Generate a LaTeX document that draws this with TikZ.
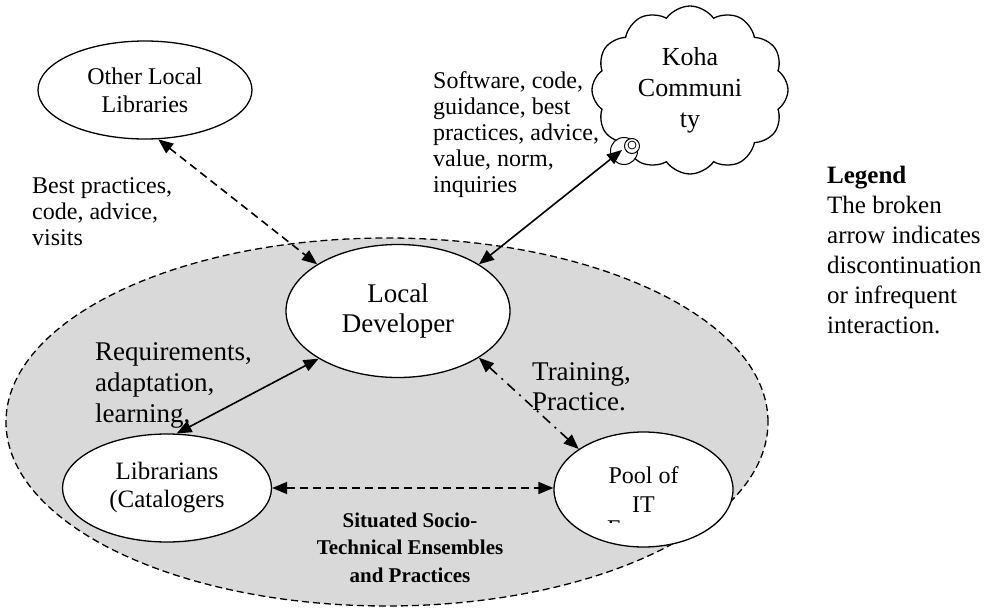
\documentclass[tikz,border=0pt]{standalone}
\usepackage{fontspec}
\setmainfont{Liberation Serif}
\usetikzlibrary{shapes.geometric,shapes.symbols,arrows.meta}
\begin{document}
\begin{tikzpicture}[x=1pt,y=-1pt,
  ell/.style={ellipse, draw, fill=white, line width=1.3pt, inner sep=0pt, align=center},
  conn/.style={line width=1.6pt, {Triangle[length=15pt,width=12pt]}-{Triangle[length=15pt,width=12pt]}},
  broken/.style={conn, dash pattern=on 8pt off 5pt},
  dotdash/.style={conn, dash pattern=on 10pt off 6pt on 2pt off 6pt},
  lbl/.style={anchor=base west, align=left, inner sep=0pt},
  bubble/.style={circle, draw, line width=1pt, inner sep=0pt, fill=white}
]
\useasboundingbox (0,0) rectangle (994,613);

% ensemble
\node[ellipse, draw, dash pattern=on 7pt off 4pt, line width=1.3pt, fill=black!15,
      minimum width=762, minimum height=368, inner sep=0pt] (ens) at (387,422) {};

% nodes
\node[ell, minimum width=214, minimum height=98, font=\fontsize{24}{28}\selectfont] (olib) at (145,90) {Other Local\\Libraries};
\node[ell, minimum width=224, minimum height=133, font=\fontsize{27}{30}\selectfont] (dev) at (398,311) {Local\\Developer};
\node[ell, minimum width=209, minimum height=108, font=\fontsize{25}{28}\selectfont] (lib) at (167,488) {Librarians\\(Catalogers};
\node[ell, minimum width=179, minimum height=115, font=\fontsize{24}{29}\selectfont] (pool) at (643.5,489.5) {Pool of\\IT};
\begin{scope}
  \clip (600,510) rectangle (632,522);
  \node[lbl, font=\fontsize{24}{29}\selectfont] (ecut) at (607,536) {E};
\end{scope}

\node[cloud, draw, line width=1.3pt, fill=white, cloud puffs=12, cloud puff arc=110,
      aspect=1.15, minimum width=196, minimum height=168, inner sep=0pt, align=center,
      font=\fontsize{26}{31}\selectfont] (koha) at (690,90) {Koha\\Communi\\ty};
\node[bubble, minimum size=27] (b1) at (624,151) {};
\node[bubble, minimum size=15] (b2) at (632,146) {};
\node[bubble, minimum size=8, line width=0.8pt] (b3) at (632,145) {};
\coordinate (kend) at (622,150);

% labels (anchor = baseline of last line)
\node[lbl, font=\fontsize{24}{26}\selectfont] (swlab) at (433,192) {Software, code,\\guidance, best\\practices, advice,\\value, norm,\\inquiries};
\node[lbl, font=\fontsize{24}{26}\selectfont] (bplab) at (32,245) {Best practices,\\code, advice,\\visits};
\node[lbl, font=\fontsize{27}{31}\selectfont] (reqlab) at (95,422) {Requirements,\\adaptation,\\learning,};
\node[lbl, font=\fontsize{27}{30}\selectfont] (trlab) at (532,410) {Training,\\Practice.};
\node[anchor=base, align=center, inner sep=0pt, font=\bfseries\fontsize{21}{27.5}\selectfont] (sit) at (410,582) {Situated Socio-\\Technical Ensembles\\and Practices};
\node[lbl, font=\fontsize{25}{30}\selectfont] (legend) at (827,333) {\textbf{Legend}\\The broken\\arrow indicates\\discontinuation\\or infrequent\\interaction.};

% connectors
\draw[broken] (olib.-75) -- (dev.150);
\draw[conn] (dev.30) -- (kend);
\draw[conn] (lib.80) -- (dev.211);
\draw[dotdash] (dev.-30) -- (pool.148);
\draw[broken] (lib.east) -- (lib.east -| pool.west);
\end{tikzpicture}
\end{document}
